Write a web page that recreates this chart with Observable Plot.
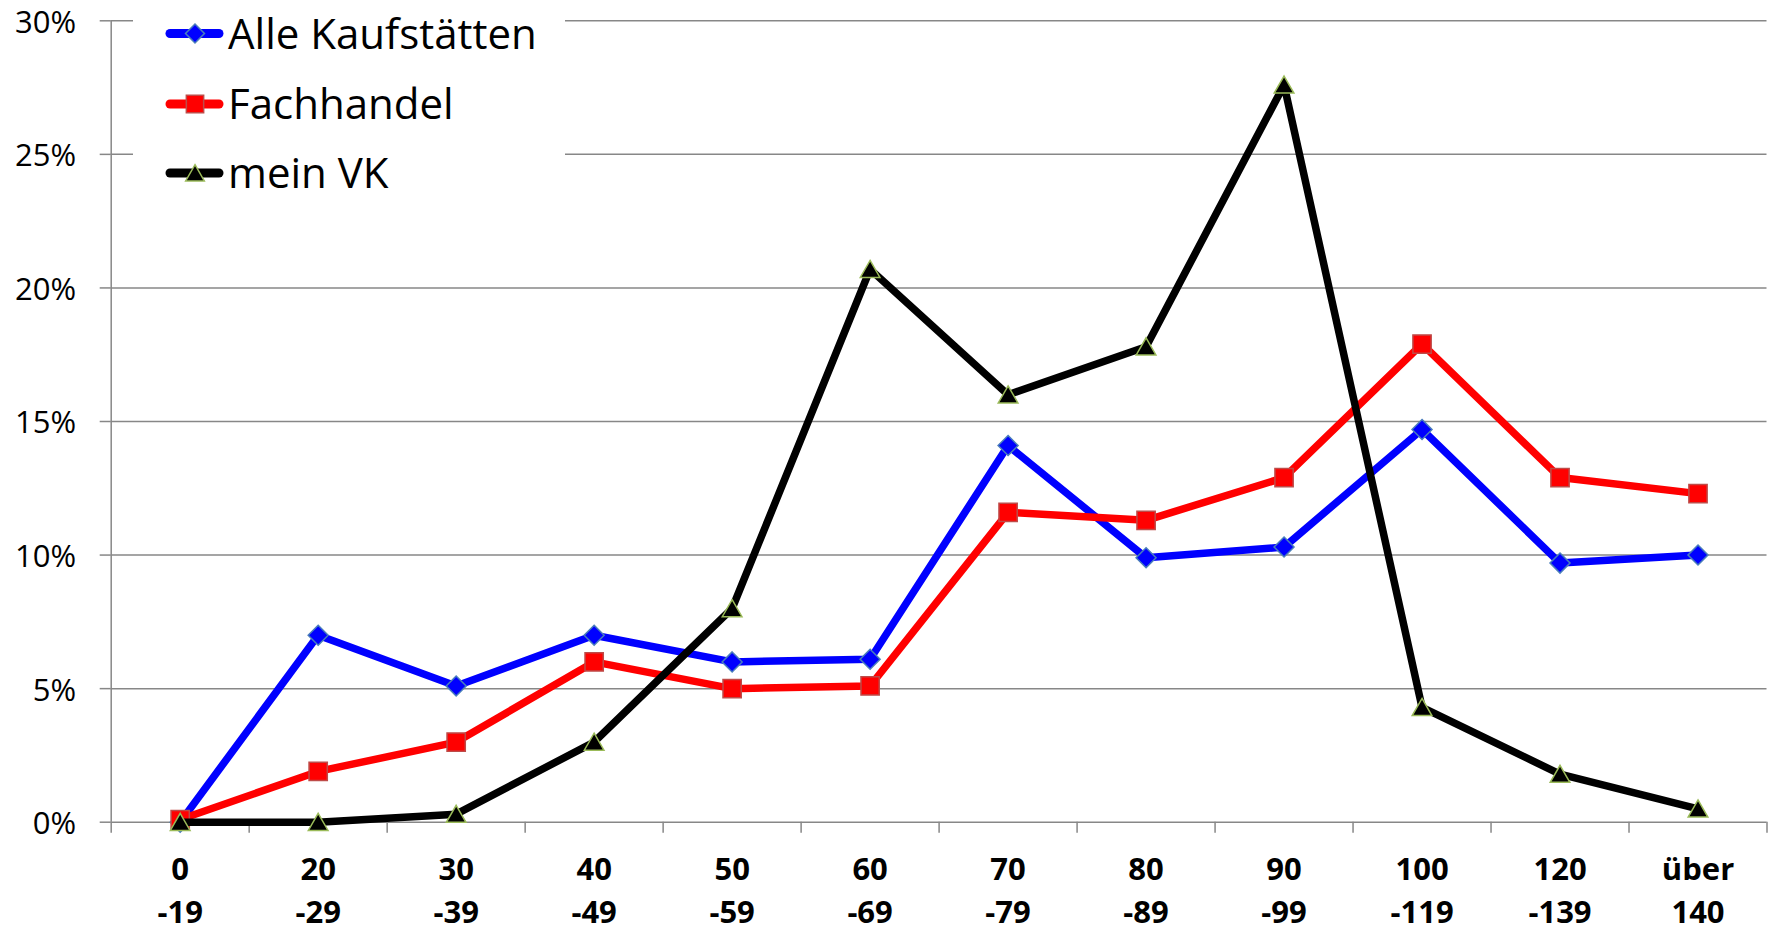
<!DOCTYPE html>
<html><head><meta charset="utf-8">
<script src="https://cdn.jsdelivr.net/npm/d3@7"></script>
<script src="https://cdn.jsdelivr.net/npm/@observablehq/plot@0.6"></script>
<style>
html,body{margin:0;padding:0;background:#fff;}
#wrap{position:relative;width:1771px;height:933px;}
#legend{position:absolute;left:133px;top:0;}
</style></head><body><div id="wrap"></div>
<script>
// category tick labels (two lines each)
const labelTop = ["0","20","30","40","50","60","70","80","90","100","120","über"];
const labelBottom = ["-19","-29","-39","-49","-59","-69","-79","-89","-99","-119","-139","140"];
// series (percent)
const seriesNames = ["Alle Kaufstätten","Fachhandel","mein VK"];
const alle   = [0.0, 7.0, 5.1, 7.0, 6.0, 6.1, 14.1, 9.9, 10.3, 14.7, 9.7, 10.0];
const fach   = [0.1, 1.9, 3.0, 6.0, 5.0, 5.1, 11.6, 11.3, 12.9, 17.9, 12.9, 12.3];
const meinVK = [0.0, 0.0, 0.3, 3.0, 8.0, 20.7, 16.0, 17.8, 27.6, 4.3, 1.8, 0.5];
// y ticks
const yTicks = [0, 0.05, 0.10, 0.15, 0.20, 0.25, 0.30];

const FONT = '"Open Sans", sans-serif';
const gray = "#878787";
const W = 1771, H = 933;

const styles = [
  {name: seriesNames[0], values: alle,   color: "#0000ff", symbol: "diamond2", r: 9,    fill: "#0000ff", mstroke: "#4a7ebb", dy: 0},
  {name: seriesNames[1], values: fach,   color: "#ff0000", symbol: "square",   r: 10.3, fill: "#ff0000", mstroke: "#be4b48", dy: 0},
  {name: seriesNames[2], values: meinVK, color: "#000000", symbol: "triangle", r: 7.3,  fill: "#000000", mstroke: "#9bbb59", dy: 2.5}
];
const toRows = vals => vals.map((v, i) => ({i, v: v / 100}));
const cats = labelTop.map((t, i) => ({i, top: t, bottom: labelBottom[i]}));
const edges = d3.range(labelTop.length + 1).map(k => k - 0.5);

const seriesMarks = styles.flatMap(s => [
  Plot.line(toRows(s.values), {x: "i", y: "v", stroke: s.color, strokeWidth: 7.5, strokeLinejoin: "round", strokeLinecap: "round"}),
  Plot.dot(toRows(s.values), {x: "i", y: "v", symbol: s.symbol, r: s.r, fill: s.fill, stroke: s.mstroke, strokeWidth: 1.5, dy: s.dy})
]);

const chart = Plot.plot({
  width: W, height: H,
  marginLeft: 110.7, marginRight: 4.5, marginTop: 20.3, marginBottom: 111.3,
  style: {fontFamily: FONT, fontSize: "31px", color: "#000", background: "#fff"},
  x: {type: "linear", domain: [-0.5, labelTop.length - 0.5], axis: null},
  y: {domain: [0, 0.30], axis: null},
  marks: [
    Plot.gridY(yTicks, {stroke: gray, strokeOpacity: 1, strokeWidth: 1.5}),
    Plot.ruleX([-0.5], {stroke: gray, strokeWidth: 1.5}),
    Plot.axisY({ticks: yTicks, tickSize: 11, tickFormat: () => "", label: null, stroke: gray, strokeWidth: 1.5}),
    Plot.axisY({ticks: yTicks, tickSize: 0, tickPadding: 35, tickFormat: d3.format(".0%"), label: null, fill: "#000", dy: 2}),
    Plot.axisX({ticks: edges, tickSize: 11, tickFormat: () => "", label: null, stroke: gray, strokeWidth: 1.5}),
    Plot.text(cats, {x: "i", frameAnchor: "bottom", text: "top", dy: 47.5, fontWeight: "bold", fill: "#000", lineAnchor: "middle"}),
    Plot.text(cats, {x: "i", frameAnchor: "bottom", text: "bottom", dy: 90.5, fontWeight: "bold", fill: "#000", lineAnchor: "middle"}),
    ...seriesMarks
  ]
});
const wrap = document.getElementById("wrap");
wrap.appendChild(chart);

// Legend overlay (inside plot area, white box)
const lg = d3.select(wrap).append("svg").attr("id", "legend")
  .attr("width", 432).attr("height", 200);
lg.append("rect").attr("width", 432).attr("height", 200).attr("fill", "#fff");
const rowsY = [33.5, 104, 173];
const symMap = {diamond2: d3.symbolDiamond2, square: d3.symbolSquare, triangle: d3.symbolTriangle};
styles.forEach((s, k) => {
  const g = lg.append("g").attr("transform", `translate(0,${rowsY[k]})`);
  g.append("line").attr("x1", 37).attr("x2", 86).attr("y1", 0).attr("y2", 0)
    .attr("stroke", s.color).attr("stroke-width", 9).attr("stroke-linecap", "round");
  g.append("path").attr("transform", `translate(62,${s.dy})`)
    .attr("d", d3.symbol(symMap[s.symbol], Math.PI * s.r * s.r * 0.9)())
    .attr("fill", s.fill).attr("stroke", s.mstroke).attr("stroke-width", 1.5);
  g.append("text").attr("x", 95).attr("y", 0).attr("dy", "0.36em")
    .attr("font-family", FONT).attr("font-size", 42).attr("fill", "#000")
    .text(s.name);
});
</script></body></html>
